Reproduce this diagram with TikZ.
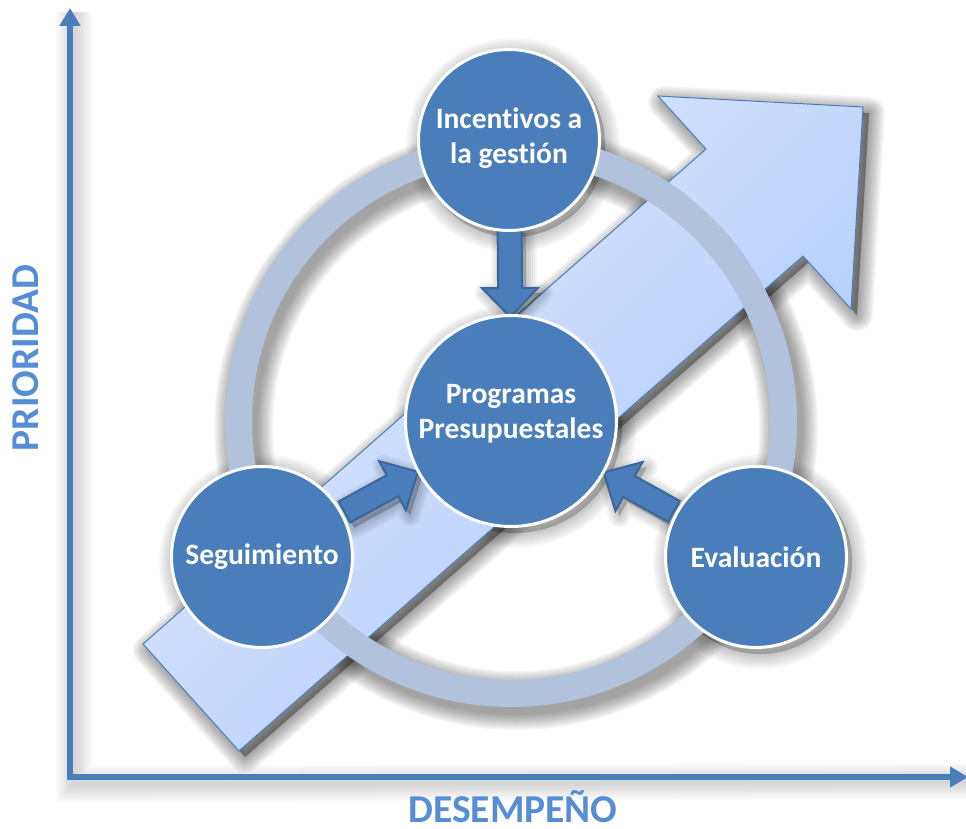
\documentclass[tikz,border=0pt]{standalone}
\usepackage{fontspec}
\setmainfont{Carlito}[Ligatures=NoCommon]
\usetikzlibrary{calc,arrows.meta}
\definecolor{cblue}{HTML}{4A7EBB}
\definecolor{cedge}{HTML}{3B6699}
\definecolor{ringc}{HTML}{B0C2DC}
\definecolor{labc}{HTML}{558ED5}
\definecolor{arlight}{HTML}{E2ECFF}
\definecolor{ardark}{HTML}{A9C7F8}
\pgfdeclarelayer{back}
\pgfdeclarelayer{front}
\pgfsetlayers{back,main,front}
\tikzset{
  bub/.style={circle, fill=cblue, draw=white, line width=3pt, inner sep=0pt},
  bubtext/.style={text=white, align=center, font=\fontsize{29.5}{35}\selectfont\bfseries, inner sep=0pt},
  smallarr/.style={fill=cblue, draw=cedge, line width=2pt, line join=miter},
  shadelayer/.style={fill=black, draw=black, fill opacity=0.04, draw opacity=0.04, line join=round},
  axisline/.style={draw=cblue, line width=6pt, -{Triangle[length=18pt,width=20pt]}},
  axlabel/.style={text=labc, font=\fontsize{39.5}{48}\selectfont\bfseries, inner sep=0pt},
  bigarr/.style={draw=cblue, line width=1pt, top color=arlight, bottom color=ardark, shading angle=45},
  ringline/.style={draw=ringc, line width=27pt},
}
\newcommand\blockarr[3]{%
  \coordinate (bh) at ($(#3)!29pt!(#2)$);
  \path[#1] ($(#2)!12pt!90:(#3)$) -- ($(bh)!12pt!90:(#3)$) -- ($(bh)!28pt!90:(#3)$) -- (#3)
    -- ($(bh)!28pt!-90:(#3)$) -- ($(bh)!12pt!-90:(#3)$) -- ($(#2)!12pt!-90:(#3)$) -- cycle;}
\begin{document}
\begin{tikzpicture}[x=1pt,y=-1pt]
\useasboundingbox (0,0) rectangle (966,829);

% circles (front layer)
\begin{pgfonlayer}{front}
\node[bub, minimum size=181pt] (inc) at (509,140) {};
\node[bubtext] (inct) at (509,138) {Incentivos a\\la gestión};
\node[bub, minimum size=211pt] (prog) at (511,421) {};
\node[bubtext] (progt) at (511,414) {Programas\\Presupuestales};
\node[bub, minimum size=181pt] (seg) at (262,557) {};
\node[bubtext] (segt) at (262,557) {Seguimiento};
\node[bub, minimum size=181pt] (eva) at (756,557) {};
\node[bubtext] (evat) at (756,557) {Evaluación};
\end{pgfonlayer}

% axes
\coordinate (oy) at (70,780);
\coordinate (ytip) at (70,8);
\coordinate (ox) at (67,777);
\coordinate (xtip) at (968,777);
\begin{pgfonlayer}{back}
\foreach \w in {4,8,...,36} {
  \draw[black, draw opacity=0.02, line width=\w pt, transform canvas={xshift=4pt,yshift=-4pt}] (ytip) -- (oy) -- (xtip);
}
% big arrow shadow
\foreach \w in {2,5,...,32} {
  \path[shadelayer, line width=\w pt, transform canvas={xshift=6pt,yshift=-6pt}]
   (143,644) -- (239,751) -- (803,256) -- (851,309) -- (863,107) -- (658,96) -- (706,149) -- cycle;
}
% ring shadow
\foreach \w [evaluate=\w as \lw using 27+\w] in {2,5,...,32} {
  \draw[black, draw opacity=0.04, line width=\lw pt, transform canvas={xshift=5pt,yshift=-7pt}] (prog.center) circle (272.5pt);
}
% circle shadows
\foreach \n/\r in {inc/92,prog/107,seg/92,eva/92} {
  \foreach \w in {2,6,...,30} {
    \path[black, fill opacity=0.03, draw opacity=0.03, fill, draw, line width=\w pt, transform canvas={xshift=4pt,yshift=-5pt}] (\n.center) circle (\r pt);
  }
}
\end{pgfonlayer}

\draw[axisline] (oy) -- (ytip);
\draw[axisline] (ox) -- (xtip);
\node[axlabel, rotate=90, anchor=base] (prio) at (38,358) {PRIORIDAD};
\node[axlabel, anchor=base] (desemp) at (513,822) {DESEMPEÑO};

% big arrow
\path[bigarr] (143,644) -- (239,751) -- (803,256) -- (851,309) -- (863,107) -- (658,96) -- (706,149) -- cycle;

% ring
\draw[ringline] (prog.center) circle (272.5pt);

% small arrows
\coordinate (a1s) at ($(inc.center)!88pt!(prog.center)$);
\coordinate (a1e) at ($(prog.center)!104pt!(inc.center)$);
\coordinate (a2s) at ($(seg.center)!94pt!(prog.center)$);
\coordinate (a2e) at ($(prog.center)!106pt!(seg.center)$);
\coordinate (a3s) at ($(eva.center)!94pt!(prog.center)$);
\coordinate (a3e) at ($(prog.center)!106pt!(eva.center)$);
\foreach \w in {2,6,...,22} {
  \blockarr{shadelayer, line width=\w pt, transform canvas={xshift=4pt,yshift=-5pt}}{a1s}{a1e}
  \blockarr{shadelayer, line width=\w pt, transform canvas={xshift=4pt,yshift=-5pt}}{a2s}{a2e}
  \blockarr{shadelayer, line width=\w pt, transform canvas={xshift=4pt,yshift=-5pt}}{a3s}{a3e}
}
\blockarr{smallarr}{a1s}{a1e}
\blockarr{smallarr}{a2s}{a2e}
\blockarr{smallarr}{a3s}{a3e}
\end{tikzpicture}
\end{document}
